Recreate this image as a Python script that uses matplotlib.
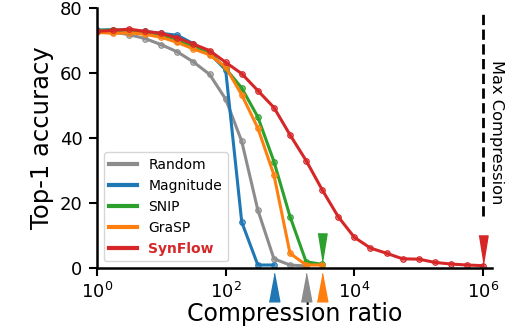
import matplotlib
matplotlib.use("Agg")
import matplotlib.pyplot as plt
import matplotlib.colors as mcolors

# compression ratios, quarter-decade steps from 10^0 to 10^6
ratios = [1, 1.778, 3.162, 5.623, 10, 17.78, 31.62, 56.23, 100, 177.8, 316.2, 562.3,
          1000, 1778, 3162, 5623, 1e4, 17783, 31623, 56234, 1e5, 177828, 316228, 562341, 1e6]

methods = ["Random", "Magnitude", "SNIP", "GraSP", "SynFlow"]
colors = ["#8c8c8c", "tab:blue", "tab:green", "tab:orange", "tab:red"]

random_acc = [73.0, 72.6, 71.8, 70.6, 68.7, 66.5, 63.4, 59.6, 52.0, 39.0, 17.9, 2.9, 1.0, 0.7]
magnitude_acc = [73.2, 73.3, 73.0, 72.8, 72.2, 71.6, 69.0, 66.0, 61.0, 14.2, 1.0, 1.0]
snip_acc = [73.0, 73.3, 73.0, 72.6, 71.8, 70.0, 68.0, 66.2, 61.4, 55.4, 46.5, 32.8, 15.9, 2.0, 1.2]
grasp_acc = [72.5, 72.2, 72.4, 71.9, 71.0, 69.4, 67.4, 65.6, 61.8, 53.3, 43.1, 28.7, 4.6, 1.0, 1.0]
synflow_acc = [72.8, 73.1, 73.5, 72.8, 72.2, 70.8, 68.9, 66.9, 63.3, 59.8, 54.6, 49.4, 41.0,
               33.1, 24.1, 15.8, 9.5, 6.2, 4.6, 2.9, 2.8, 1.8, 1.3, 1.0, 0.8]
accs = [random_acc, magnitude_acc, snip_acc, grasp_acc, synflow_acc]

# where each method's marker sits: below the axis (up) or above the curve (down)
marker_above = [False, False, True, False, True]

fig = plt.figure(figsize=(5.1, 3.32), dpi=100)
ax = fig.add_axes([0.190, 0.192, 0.775, 0.784])

up_tri = [(-0.16, -1.0), (0.16, -1.0), (0.0, -0.15)]
down_tri = [(-0.15, 1.0), (0.15, 1.0), (0.0, 0.07)]

for name, col, acc, above in zip(methods, colors, accs, marker_above):
    x = ratios[:len(acc)]
    face = mcolors.to_rgba(col, 0.5)
    ax.plot(x, acc, color=col, lw=2.2, marker="o", ms=4, mfc=face, mec=col,
            mew=0.8, label=name)
    if above:
        ax.plot(x[-1], acc[-1], marker=down_tri, ms=44, color=col, lw=0,
                clip_on=False, zorder=5)
    else:
        ax.plot(x[-1], 0, marker=up_tri, ms=48, color=col, lw=0,
                clip_on=False, zorder=5)

ax.axvline(1e6, ymin=0.2, ymax=0.98, color="black", ls="--", lw=2)
ax.text(10**6.2, 41.8, "Max Compression", rotation=270, ha="center", va="center",
        fontsize=11.7)

ax.set_xscale("log")
ax.set_xlim(1, 10**6.14)
ax.set_ylim(0, 80)
ax.set_xticks([1, 1e2, 1e4, 1e6])
ax.minorticks_off()
ax.set_yticks([0, 20, 40, 60, 80])
ax.tick_params(labelsize=13, width=1.5, length=5.5, pad=5)
ax.tick_params(axis="x", pad=4)

ax.spines["top"].set_visible(False)
ax.spines["right"].set_visible(False)
ax.spines["left"].set_linewidth(1.8)
ax.spines["bottom"].set_linewidth(1.8)

ax.set_xlabel("Compression ratio", fontsize=17, labelpad=0)
ax.set_ylabel("Top-1 accuracy", fontsize=17.5, labelpad=4)

leg = ax.legend(loc="lower left", fontsize=10)
for line in leg.get_lines():
    line.set_marker("")
    line.set_linewidth(3)
syn_text = leg.get_texts()[-1]
syn_text.set_color("tab:red")
syn_text.set_fontweight("bold")

fig.savefig("out.png", dpi=100)
